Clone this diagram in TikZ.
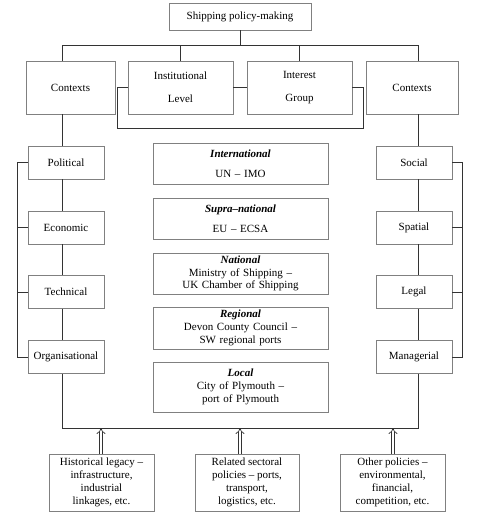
\documentclass[tikz,border=0pt]{standalone}
\usepackage{fontspec}
\setmainfont{Liberation Serif}
\usepackage{xcolor}
\usepackage{tikz}
\usetikzlibrary{arrows.meta}

\begin{document}
\begin{tikzpicture}[x=1pt,y=-1pt,
	box/.style={draw=black!50, line width=0.9pt, align=center, inner sep=1pt, text=black},
	wire/.style={draw=black!80, line width=0.9pt},
	imp/.style={draw=black!80, line width=0.7pt, double, double distance=2.4pt, -{Implies[scale=1.4]}},
	lvl/.style={box, minimum width=175, text width=170}]
	\fontsize{11}{12.8}\selectfont
	\useasboundingbox (0,0) rectangle (497,525);
	\node[box, minimum width=142, minimum height=27] (top) at (240,16.5) {Shipping policy-making};
	\node[box, minimum width=89, minimum height=53] (ctxL) at (70.5,87.5) {Contexts};
	\node[box, minimum width=105, minimum height=53] (inst) at (180.5,87.5) {Institutional\\[10pt]Level};
	\node[box, minimum width=105, minimum height=53] (intg) at (299.5,87.5) {Interest\\[10pt]Group};
	\node[box, minimum width=92, minimum height=53] (ctxR) at (412,87.5) {Contexts};
	\node[box, minimum width=76, minimum height=33] (pol) at (66,162.5) {Political};
	\node[box, minimum width=76, minimum height=33] (eco) at (66,227.5) {Economic};
	\node[box, minimum width=76, minimum height=33] (tec) at (66,292) {Technical};
	\node[box, minimum width=76, minimum height=33] (org) at (66,357) {Organisational};
	\node[box, minimum width=76, minimum height=33] (soc) at (414,162.5) {Social};
	\node[box, minimum width=76, minimum height=33] (spa) at (414,227.5) {Spatial};
	\node[box, minimum width=76, minimum height=33] (leg) at (414,292) {Legal};
	\node[box, minimum width=76, minimum height=33] (man) at (414,357) {Managerial};
	\node[lvl, minimum height=41] (int) at (240.5,163.5) {\textbf{\textit{International}}\\[7pt]UN -- IMO};
	\node[lvl, minimum height=41] (sup) at (240.5,218.5) {\textbf{\textit{Supra--national}}\\[7pt]EU -- ECSA};
	\node[lvl, minimum height=41] (nat) at (240.5,273.5) {\textbf{\textit{National}}\\Ministry of Shipping --\\UK Chamber of Shipping};
	\node[lvl, minimum height=42] (reg) at (240.5,328) {\textbf{\textit{Regional}}\\Devon County Council --\\SW regional ports};
	\node[lvl, minimum height=50] (loc) at (240.5,387) {\textbf{\textit{Local}}\\City of Plymouth --\\port of Plymouth};
	\node[box, minimum width=105, minimum height=57] (his) at (101.5,482.5) {Historical legacy --\\infrastructure,\\industrial\\linkages, etc.};
	\node[box, minimum width=104, minimum height=57] (rel) at (247,482.5) {Related sectoral\\policies -- ports,\\transport,\\logistics, etc.};
	\node[box, minimum width=105, minimum height=57] (oth) at (392.5,482.5) {Other policies --\\environmental,\\financial,\\competition, etc.};
	\coordinate (busL) at (62,45);
	\coordinate (busR) at (418,45);
	\coordinate (busB) at (62,428);
	\coordinate (arrL) at (101,428);
	\coordinate (arrM) at (240,428);
	\coordinate (arrR) at (393,428);
	\draw[wire] (top.south) -- (top.south |- busL);
	\draw[wire] (busL |- ctxL.north) -- (busL) -- (busR) -- (busR |- ctxR.north);
	\draw[wire] (inst.north) -- (inst.north |- busL);
	\draw[wire] (intg.north) -- (intg.north |- busL);
	\draw[wire] (inst.east) -- (intg.west);
	\draw[wire] (inst.west) -- ++(-10,0) -- ++(0,41) -| ([xshift=11pt]intg.east) -- (intg.east);
	\draw[wire] (busL |- ctxL.south) -- (busL |- pol.north);
	\draw[wire] (busL |- pol.south) -- (busL |- eco.north);
	\draw[wire] (busL |- eco.south) -- (busL |- tec.north);
	\draw[wire] (busL |- tec.south) -- (busL |- org.north);
	\draw[wire] (busR |- ctxR.south) -- (busR |- soc.north);
	\draw[wire] (busR |- soc.south) -- (busR |- spa.north);
	\draw[wire] (busR |- spa.south) -- (busR |- leg.north);
	\draw[wire] (busR |- leg.south) -- (busR |- man.north);
	\draw[wire] (pol.west) -- ++(-10,0) |- (org.west);
	\draw[wire] (eco.west) -- ++(-10,0);
	\draw[wire] (tec.west) -- ++(-10,0);
	\draw[wire] (soc.east) -- ++(10,0) |- (man.east);
	\draw[wire] (spa.east) -- ++(10,0);
	\draw[wire] (leg.east) -- ++(10,0);
	\draw[wire] (busL |- org.south) -- (busB) -- (busR |- busB) -- (busR |- man.south);
	\draw[imp] (his.north -| arrL) -- (arrL);
	\draw[imp] (rel.north -| arrM) -- (arrM);
	\draw[imp] (oth.north -| arrR) -- (arrR);
\end{tikzpicture}
\end{document}
